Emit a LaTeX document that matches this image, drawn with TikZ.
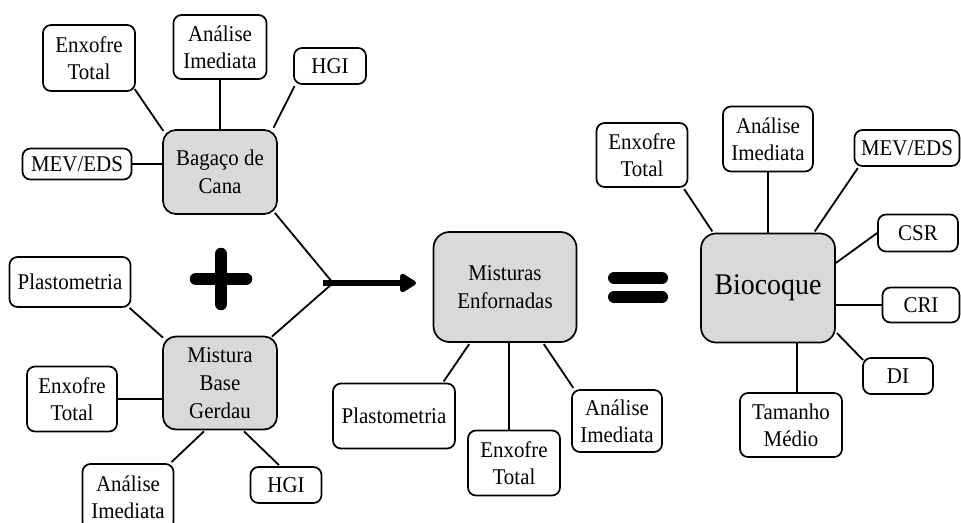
\documentclass[tikz,border=0pt]{standalone}
\usepackage{fontspec}
\setmainfont[FakeStretch=0.93]{Liberation Serif}
\usetikzlibrary{calc,arrows.meta}
\definecolor{boxgray}{RGB}{217,217,217}
\tikzset{
  x=1pt, y=-1pt,
  sbox/.style={draw, line width=1.7pt, rounded corners=8pt, fill=white, align=center,
    font=\fontsize{22.5}{27}\selectfont, inner sep=0pt},
  mbox/.style={draw, line width=1.7pt, rounded corners=13pt, fill=boxgray, align=center,
    font=\fontsize{22.5}{28}\selectfont, inner sep=0pt},
  link/.style={line width=1.8pt, shorten <=1.5pt, shorten >=1.5pt},
  fatbar/.style={line width=12.5pt, line cap=round},
}
\begin{document}
\begin{tikzpicture}
\useasboundingbox (0,0) rectangle (961,522);
\clip (0,0) rectangle (961,522);
% ---- Bagaço de Cana cluster
\node[mbox, minimum width=114pt, minimum height=84pt] (bag) at (220,172) {Bagaço de\\Cana};
\node[sbox, minimum width=92pt, minimum height=66pt] (et1) at (89,58) {Enxofre\\Total};
\node[sbox, minimum width=93pt, minimum height=64pt] (ai1) at (220,47) {Análise\\Imediata};
\node[sbox, minimum width=72pt, minimum height=36pt] (hgi1) at (330,66) {HGI};
\node[sbox, minimum width=109pt, minimum height=31pt] (mev1) at (77,164) {MEV/EDS};
\draw[link] ($(et1.south east)+(-2,-4)$) -- ($(bag.north west)+(2,3)$);
\draw[link, shorten <=0pt, shorten >=0pt] (ai1.south) -- (bag.north);
\draw[link] ($(hgi1.south west)+(2,0)$) -- ($(bag.north east)+(-5,0)$);
\draw[link, shorten <=0pt, shorten >=0pt] (mev1.east) -- (mev1.east -| bag.west);
% ---- Mistura Base Gerdau cluster
\node[mbox, minimum width=114pt, minimum height=93pt] (mbg) at (220,383) {Mistura\\Base\\Gerdau};
\node[sbox, minimum width=121pt, minimum height=50pt] (pl1) at (70,282) {Plastometria};
\node[sbox, minimum width=90pt, minimum height=65pt] (et2) at (72,399) {Enxofre\\Total};
\node[sbox, minimum width=91pt, minimum height=66pt] (ai2) at (128,497) {Análise\\Imediata};
\node[sbox, minimum width=71pt, minimum height=36pt] (hgi2) at (286,485) {HGI};
\draw[link] ($(pl1.south east)+(-3,-1)$) -- ($(mbg.north west)+(2,3)$);
\draw[link, shorten <=0pt, shorten >=0pt] (et2.east) -- (et2.east -| mbg.west);
\draw[link] ($(ai2.north east)+(-4,0)$) -- ($(mbg.south)+(-15,0)$);
\draw[link] ($(hgi2.north)+(-6,0)$) -- ($(mbg.south)+(23,0)$);
% ---- junction and arrow
\coordinate (j) at (333,283);
\coordinate (aend) at (416,283);
\draw[line width=1.8pt] ($(bag.south east)+(-3,-2)$) -- (j);
\draw[line width=1.8pt] ($(mbg.north east)+(-6,1)$) -- (j);
\draw[line width=6pt, -{Triangle[length=18pt 0 0,width=21pt 0 0,round]}] ($(j)+(-10,0)$) -- (aend);
% ---- plus sign
\coordinate (pc) at (221,279);
\draw[fatbar] ($(pc)+(-25,0)$) -- ($(pc)+(25,0)$);
\draw[fatbar] ($(pc)+(0,-25)$) -- ($(pc)+(0,25)$);
% ---- Misturas Enfornadas cluster
\node[mbox, rounded corners=16pt, minimum width=143pt, minimum height=110pt] (mix) at (505,287) {Misturas\\Enfornadas};
\node[sbox, minimum width=122pt, minimum height=65pt] (pl2) at (394,416) {Plastometria};
\node[sbox, minimum width=92pt, minimum height=65pt] (et3) at (514,463) {Enxofre\\Total};
\node[sbox, minimum width=90pt, minimum height=62pt] (ai3) at (617,421) {Análise\\Imediata};
\draw[link] ($(pl2.north east)+(-13,0)$) -- ($(mix.south)+(-35,0)$);
\draw[link, shorten <=0pt, shorten >=0pt] ($(et3.north)+(-5,0)$) coordinate (t3) -- (t3 |- mix.south);
\draw[link] ($(ai3.north west)+(3,0)$) -- ($(mix.south)+(38,0)$);
% ---- equals sign
\coordinate (ec) at (638,288);
\draw[fatbar, line width=12pt] ($(ec)+(-24,-10)$) -- ($(ec)+(24,-10)$);
\draw[fatbar, line width=12pt] ($(ec)+(-24,9)$) -- ($(ec)+(24,9)$);
% ---- Biocoque cluster
\node[mbox, rounded corners=15pt, minimum width=134pt, minimum height=109pt, font=\fontsize{30}{34}\selectfont] (bio) at (768,288) {Biocoque};
\node[sbox, minimum width=91pt, minimum height=64pt] (et4) at (642,155) {Enxofre\\Total};
\node[sbox, minimum width=90pt, minimum height=65pt] (ai4) at (768,139) {Análise\\Imediata};
\node[sbox, minimum width=105pt, minimum height=36pt] (mev2) at (907,148) {MEV/EDS};
\node[sbox, minimum width=80pt, minimum height=37pt] (csr) at (918,233) {CSR};
\node[sbox, minimum width=77pt, minimum height=35pt] (cri) at (921,305) {CRI};
\node[sbox, minimum width=70pt, minimum height=36pt] (di) at (898,376) {DI};
\node[sbox, minimum width=102pt, minimum height=64pt] (tm) at (791,425) {Tamanho\\Médio};
\draw[link] ($(et4.south east)+(-5,0)$) -- ($(bio.north west)+(13,0)$);
\draw[link, shorten <=0pt, shorten >=0pt] (ai4.south) -- (bio.north);
\draw[link] ($(mev2.south west)+(5,0)$) -- ($(bio.north east)+(-22,0)$);
\draw[link, shorten <=0pt, shorten >=0pt] (csr.west) -- ($(bio.east)+(0,-25)$);
\draw[link, shorten <=0pt, shorten >=0pt] (cri.west) -- (cri.west -| bio.east);
\draw[link] ($(di.north west)+(2,4)$) -- ($(bio.east)+(0,44)$);
\draw[link, shorten <=0pt, shorten >=0pt] ($(tm.north)+(6,0)$) coordinate (t4) -- (t4 |- bio.south);
\end{tikzpicture}
\end{document}
